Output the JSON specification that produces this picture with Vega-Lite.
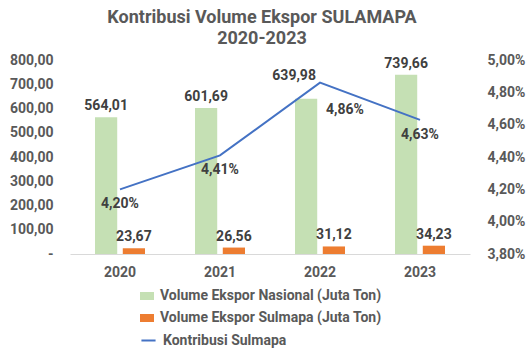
{
  "$schema": "https://vega.github.io/schema/vega-lite/v6.json",
  "width": 400,
  "height": 194,
  "autosize": {"type": "none"},
  "padding": {"left": 70, "top": 60, "right": 61, "bottom": 100},
  "background": "white",
  "title": {
    "text": ["Kontribusi Volume Ekspor SULAMAPA", "2020-2023"],
    "font": "Roboto",
    "fontSize": 18,
    "fontWeight": "bold",
    "color": "#595959",
    "anchor": "middle",
    "lineHeight": 21,
    "offset": 5,
    "dx": -8
  },
  "datasets": {
    "volume": [
      {"tahun": "2020", "seri": "Volume Ekspor Nasional (Juta Ton)", "nilai": 564.01},
      {"tahun": "2020", "seri": "Volume Ekspor Sulmapa (Juta Ton)", "nilai": 23.67},
      {"tahun": "2021", "seri": "Volume Ekspor Nasional (Juta Ton)", "nilai": 601.69},
      {"tahun": "2021", "seri": "Volume Ekspor Sulmapa (Juta Ton)", "nilai": 26.56},
      {"tahun": "2022", "seri": "Volume Ekspor Nasional (Juta Ton)", "nilai": 639.98},
      {"tahun": "2022", "seri": "Volume Ekspor Sulmapa (Juta Ton)", "nilai": 31.12},
      {"tahun": "2023", "seri": "Volume Ekspor Nasional (Juta Ton)", "nilai": 739.66},
      {"tahun": "2023", "seri": "Volume Ekspor Sulmapa (Juta Ton)", "nilai": 34.23}
    ],
    "kontribusi": [
      {"tahun": "2020", "persen": 0.0420},
      {"tahun": "2021", "persen": 0.0441},
      {"tahun": "2022", "persen": 0.0486},
      {"tahun": "2023", "persen": 0.0463}
    ]
  },
  "layer": [
    {
      "data": {"name": "volume"},
      "encoding": {
        "x": {
          "field": "tahun", "type": "nominal",
          "scale": {"paddingInner": 0.5, "paddingOuter": 0.25},
          "axis": {"title": null, "labelAngle": 0, "ticks": false, "domainColor": "#D9D9D9", "domainWidth": 1, "labelPadding": 11, "labelFontSize": 14, "labelFontWeight": "bold", "labelColor": "#595959", "labelFont": "Roboto"}
        },
        "xOffset": {
          "field": "seri", "type": "nominal",
          "sort": ["Volume Ekspor Nasional (Juta Ton)", "Volume Ekspor Sulmapa (Juta Ton)"],
          "scale": {"paddingInner": 0.2}
        },
        "y": {
          "field": "nilai", "type": "quantitative",
          "scale": {"domain": [0, 800], "nice": false},
          "axis": {"title": null, "values": [0, 100, 200, 300, 400, 500, 600, 700, 800], "format": ".2f", "labelExpr": "datum.value == 0 ? '-' : datum.label", "domain": false, "ticks": false, "grid": false, "labelPadding": 17, "labelFontSize": 14, "labelFontWeight": "bold", "labelColor": "#595959", "labelFont": "Roboto"}
        }
      },
      "layer": [
        {
          "mark": {"type": "bar"},
          "encoding": {
            "color": {
              "field": "seri", "type": "nominal",
              "scale": {"domain": ["Volume Ekspor Nasional (Juta Ton)", "Volume Ekspor Sulmapa (Juta Ton)"], "range": ["#C5E0B4", "#ED7D31"]},
              "legend": {
                "title": null, "orient": "none", "legendX": 70, "legendY": 229, "direction": "vertical",
                "symbolType": "M-1,-0.57L1,-0.57L1,0.57L-1,0.57Z", "symbolSize": 196, "symbolStrokeWidth": 0,
                "labelFontSize": 14, "labelFontWeight": "bold", "labelColor": "#595959", "labelFont": "Roboto",
                "labelLimit": 400, "rowPadding": 8, "labelOffset": 6, "padding": 0
              }
            }
          }
        },
        {
          "transform": [{"filter": "datum.tahun != '2022' || datum.seri != 'Volume Ekspor Nasional (Juta Ton)'"}],
          "mark": {"type": "text", "baseline": "alphabetic", "dy": -7, "fontSize": 14, "fontWeight": "bold", "font": "Roboto", "color": "#404040"},
          "encoding": {"text": {"field": "nilai", "type": "quantitative", "format": ".2f"}}
        },
        {
          "transform": [{"filter": "datum.tahun == '2022' && datum.seri == 'Volume Ekspor Nasional (Juta Ton)'"}],
          "mark": {"type": "text", "baseline": "alphabetic", "dx": -12, "dy": -19, "fontSize": 14, "fontWeight": "bold", "font": "Roboto", "color": "#404040"},
          "encoding": {"text": {"field": "nilai", "type": "quantitative", "format": ".2f"}}
        }
      ]
    },
    {
      "data": {"name": "kontribusi"},
      "encoding": {
        "x": {"field": "tahun", "type": "nominal", "scale": {"paddingInner": 0.5, "paddingOuter": 0.25}},
        "y": {
          "field": "persen", "type": "quantitative",
          "scale": {"domain": [0.038, 0.05], "nice": false, "zero": false},
          "axis": {"title": null, "orient": "right", "values": [0.038, 0.04, 0.042, 0.044, 0.046, 0.048, 0.05], "format": ".2%", "domain": false, "ticks": false, "grid": false, "labelPadding": 17, "labelFontSize": 14, "labelFontWeight": "bold", "labelColor": "#595959", "labelFont": "Roboto"}
        }
      },
      "layer": [
        {
          "mark": {"type": "line", "strokeWidth": 2},
          "encoding": {
            "stroke": {
              "datum": "Kontribusi Sulmapa",
              "scale": {"range": ["#4472C4"]},
              "legend": {
                "title": null, "orient": "none", "legendX": 70, "legendY": 272, "direction": "vertical",
                "symbolType": "stroke", "symbolSize": 200, "symbolStrokeWidth": 2,
                "labelFontSize": 14, "labelFontWeight": "bold", "labelColor": "#595959", "labelFont": "Roboto",
                "labelLimit": 400, "labelOffset": 6, "padding": 0
              }
            }
          }
        },
        {
          "transform": [{"filter": "datum.tahun != '2022'"}],
          "mark": {"type": "text", "baseline": "top", "dy": 8, "fontSize": 14, "fontWeight": "bold", "font": "Roboto", "color": "#404040"},
          "encoding": {"text": {"field": "persen", "type": "quantitative", "format": ".2%"}}
        },
        {
          "transform": [{"filter": "datum.tahun == '2022'"}],
          "mark": {"type": "text", "baseline": "top", "dx": 25, "dy": 20, "fontSize": 14, "fontWeight": "bold", "font": "Roboto", "color": "#404040"},
          "encoding": {"text": {"field": "persen", "type": "quantitative", "format": ".2%"}}
        }
      ]
    }
  ],
  "resolve": {"scale": {"y": "independent"}},
  "config": {
    "view": {"stroke": null},
    "locale": {"number": {"decimal": ",", "thousands": ".", "grouping": [3], "currency": ["", ""]}}
  }
}
